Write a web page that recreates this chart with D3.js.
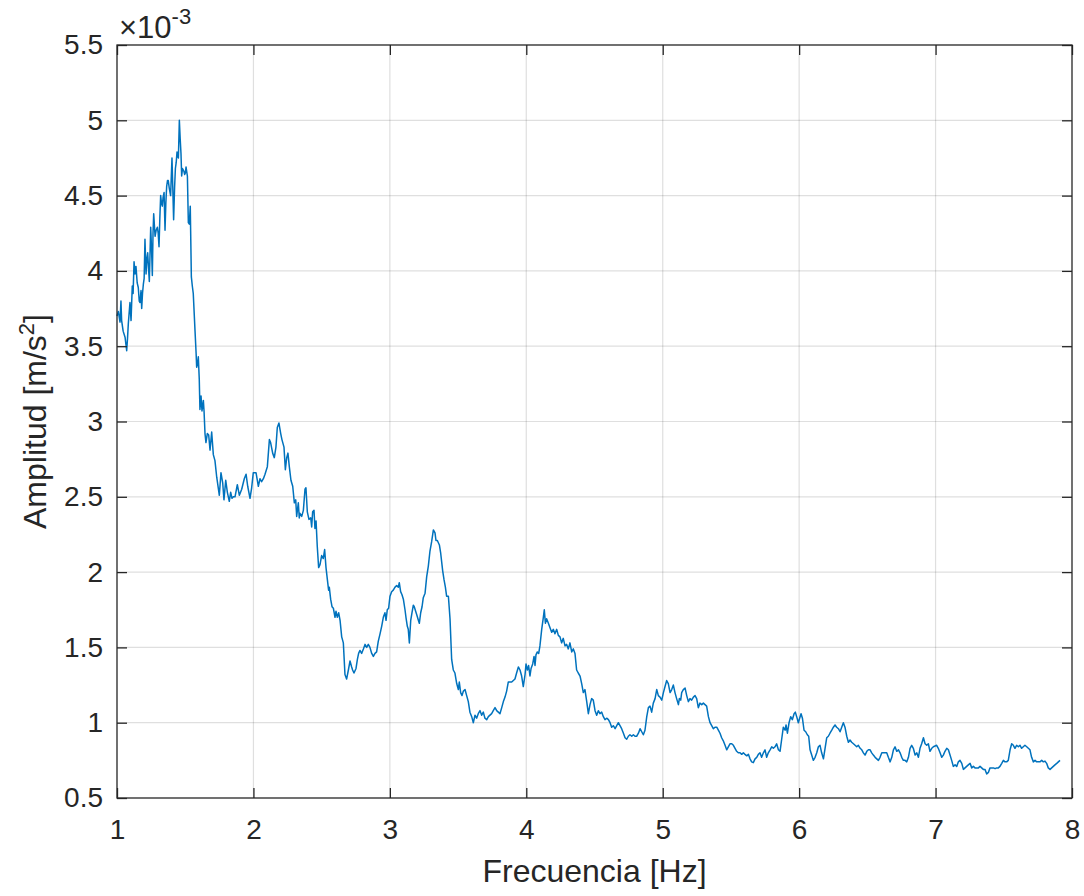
<!DOCTYPE html>
<html>
<head>
<meta charset="utf-8">
<script src="https://cdn.jsdelivr.net/npm/d3@7/dist/d3.min.js"></script>
<style>
  html, body { margin: 0; padding: 0; background: #ffffff; }
  svg { display: block; font-family: "Liberation Sans", Arial, Helvetica, sans-serif; }
</style>
</head>
<body>
<svg id="chart" width="1084" height="896"></svg>
<script>
// Frequency (Hz)
const freq = [
  1.000,1.010,1.022,1.029,1.034,1.045,1.059,1.071,1.077,1.083,1.095,1.103,1.112,1.118,1.125,1.132,1.139,1.148,1.156,1.163,
  1.169,1.176,1.181,1.187,1.193,1.199,1.205,1.213,1.219,1.225,1.231,1.237,1.247,1.253,1.259,1.264,1.269,1.279,1.287,1.296,
  1.302,1.308,1.314,1.320,1.326,1.332,1.338,1.345,1.352,1.358,1.364,1.370,1.376,1.383,1.393,1.403,1.409,1.415,1.422,1.428,
  1.434,1.440,1.445,1.450,1.457,1.463,1.469,1.474,1.480,1.486,1.491,1.496,1.501,1.506,1.511,1.516,1.520,1.523,1.530,1.537,
  1.545,1.552,1.559,1.572,1.580,1.584,1.590,1.596,
  1.603,1.608,1.616,1.623,1.633,1.638,1.645,1.652,1.662,1.672,1.682,1.694,1.706,1.718,1.731,1.750,1.762,1.775,1.784,1.797,
  1.809,1.823,1.833,1.843,1.853,1.865,1.882,1.897,1.914,1.933,1.946,1.958,1.975,1.987,1.999,2.019,2.036,2.048,2.060,2.073,
  2.085,2.102,2.117,2.126,2.141,2.153,2.165,2.175,2.187,2.200,2.209,2.224,2.234,2.244,2.253,2.263,2.275,2.288,2.300,2.310,
  2.317,2.329,2.336,
  2.341,2.354,2.366,2.378,2.385,2.395,2.407,2.420,2.427,2.434,2.444,2.451,2.459,2.468,2.478,2.488,2.500,2.512,2.522,2.532,
  2.542,2.551,2.556,2.566,2.576,2.586,2.598,2.605,2.615,2.625,2.635,2.647,2.659,2.671,2.683,2.696,2.708,2.720,2.727,2.737,
  2.752,2.762,2.771,2.781,2.793,2.806,2.818,2.830,2.842,2.854,2.867,2.879,2.891,2.903,2.915,2.928,2.940,2.952,2.964,2.972,
  2.981,2.991,3.001,3.013,3.025,3.038,3.050,3.062,3.069,3.079,3.089,3.099,3.111,3.118,3.128,3.135,3.143,3.153,3.162,3.172,
  3.179,3.189,3.196,3.209,3.216,3.226,3.236,3.245,3.258,3.270,3.282,3.294,3.306,3.319,3.331,3.338,3.348,3.363,3.372,3.387,
  3.397,3.407,3.416,3.429,3.441,
  3.453,3.465,3.477,3.490,3.502,3.509,3.519,3.529,3.539,3.551,3.563,3.575,3.587,3.600,3.612,3.624,3.636,3.648,3.661,3.673,
  3.685,3.697,3.710,3.722,3.734,3.746,3.758,3.771,3.783,3.795,3.807,3.820,3.832,3.844,3.856,3.868,3.881,3.893,3.905,3.917,
  3.929,3.942,3.954,3.966,3.978,3.991,3.998,4.008,4.017,4.027,4.035,4.047,4.057,4.064,4.071,4.081,4.091,4.100,4.113,4.125,
  4.132,4.140,4.149,4.162,4.174,4.186,4.198,4.210,4.223,4.235,4.247,4.259,4.271,4.284,4.296,4.308,4.320,4.333,4.345,4.357,
  4.369,4.381,
  4.394,4.406,4.418,4.430,4.443,4.455,4.467,4.479,4.491,4.504,4.516,4.528,4.540,4.553,4.565,4.577,4.589,4.602,4.614,4.626,
  4.638,4.651,4.663,4.675,4.687,4.699,4.712,4.724,4.736,4.748,4.760,4.773,4.785,4.797,4.809,4.822,4.834,4.846,4.858,4.870,
  4.883,4.895,4.907,4.919,4.931,4.944,4.956,4.968,4.980,4.993,5.005,5.017,5.029,5.041,5.054,5.066,5.078,5.090,5.102,5.115,
  5.122,5.132,5.139,5.151,5.164,5.176,5.188,5.200,5.212,5.225,5.237,5.249,5.261,5.273,5.286,5.298,5.310,5.322,5.335,5.347,
  5.359,5.371,5.383,5.396,5.408,5.420,5.432,5.444,5.457,5.469,5.481,5.493,5.506,5.518,5.530,5.542,5.554,5.567,5.579,5.591,
  5.603,5.616,5.628,5.640,5.652,5.664,5.677,5.689,5.701,5.713,5.725,5.738,5.750,5.762,5.774,5.787,5.799,5.811,5.823,5.835,
  5.848,
  5.860,5.872,5.884,5.897,5.904,5.914,5.926,5.938,5.950,5.963,5.972,5.982,5.994,6.007,6.014,6.024,6.036,6.048,6.060,6.070,
  6.080,6.092,6.104,6.117,6.129,6.141,6.153,6.165,6.178,6.190,6.202,6.214,6.226,6.239,6.251,6.263,6.275,6.288,6.300,6.312,
  6.324,6.336,6.349,6.361,6.373,6.385,6.398,6.410,6.422,6.434,6.447,6.459,6.471,6.483,6.496,6.508,6.520,6.532,6.544,6.557,
  6.569,6.581,6.593,6.606,6.618,6.630,6.642,6.654,6.667,6.679,6.691,6.703,6.715,6.728,6.740,6.752,6.764,6.776,6.789,6.801,
  6.813,6.825,6.837,6.850,6.862,6.874,6.886,6.898,6.911,6.923,6.935,6.947,6.959,6.972,6.984,6.996,7.008,7.020,7.033,7.045,
  7.057,7.069,7.082,7.094,7.106,7.118,7.130,7.143,7.155,7.167,7.179,7.192,7.204,7.216,7.228,7.240,7.253,7.265,7.277,7.289,
  7.301,7.314,7.326,7.338,7.350,7.362,7.375,7.387,7.399,7.411,7.424,7.436,7.448,7.460,7.472,7.485,7.497,7.509,7.521,7.533,
  7.546,7.558,7.570,7.582,7.594,7.607,7.619,7.631,7.643,7.655,7.668,7.680,7.692,7.704,7.717,7.729,7.741,7.753,7.765,7.778,
  7.790,7.802,7.814,7.826,7.839,7.851,7.863,7.875,7.888,7.900,7.912
];

// Amplitude (x 10^-3 m/s^2)
const amplitude = [
  3.70,3.73,3.66,3.80,3.67,3.60,3.56,3.47,3.55,3.65,3.79,3.67,3.90,3.85,4.06,3.98,4.03,3.92,3.89,3.80,
  3.79,3.87,3.75,3.85,3.91,3.95,4.21,3.98,4.08,4.12,4.02,3.93,4.29,4.15,3.97,4.25,4.38,4.23,4.27,4.29,
  4.25,4.16,4.35,4.50,4.45,4.43,4.49,4.52,4.27,4.45,4.56,4.60,4.60,4.55,4.50,4.75,4.55,4.34,4.55,4.68,
  4.72,4.79,4.76,4.75,5.00,4.88,4.78,4.63,4.68,4.67,4.66,4.64,4.65,4.69,4.66,4.63,4.45,4.32,4.31,4.43,
  3.96,3.90,3.85,3.60,3.45,3.36,3.38,3.43,
  3.28,3.08,3.17,3.07,3.14,3.07,2.92,2.86,2.92,2.91,2.81,2.93,2.78,2.74,2.63,2.51,2.66,2.59,2.48,2.61,
  2.53,2.47,2.53,2.49,2.50,2.50,2.58,2.51,2.55,2.62,2.65,2.57,2.49,2.56,2.66,2.66,2.57,2.62,2.60,2.62,
  2.65,2.70,2.88,2.86,2.79,2.76,2.83,2.96,2.99,2.92,2.88,2.83,2.68,2.76,2.79,2.70,2.61,2.57,2.46,2.48,
  2.37,2.46,2.36,
  2.39,2.37,2.41,2.55,2.56,2.40,2.35,2.36,2.30,2.40,2.41,2.29,2.34,2.17,2.03,2.05,2.11,2.09,2.15,2.03,
  1.95,1.88,1.90,1.82,1.77,1.76,1.70,1.74,1.70,1.73,1.68,1.57,1.53,1.32,1.29,1.35,1.41,1.37,1.35,1.33,
  1.36,1.42,1.46,1.48,1.46,1.49,1.52,1.50,1.52,1.50,1.46,1.44,1.46,1.47,1.54,1.59,1.64,1.70,1.73,1.68,
  1.75,1.76,1.84,1.87,1.88,1.90,1.91,1.90,1.93,1.87,1.85,1.82,1.75,1.70,1.64,1.62,1.53,1.68,1.73,1.78,
  1.77,1.74,1.72,1.68,1.66,1.73,1.77,1.83,1.86,1.97,2.04,2.14,2.20,2.28,2.26,2.21,2.21,2.18,2.13,2.01,
  1.95,1.90,1.84,1.84,1.69,
  1.42,1.35,1.33,1.26,1.22,1.27,1.20,1.18,1.21,1.22,1.18,1.14,1.07,1.04,1.00,1.05,1.03,1.06,1.08,1.05,
  1.07,1.03,1.02,1.04,1.05,1.06,1.08,1.10,1.08,1.07,1.06,1.10,1.14,1.17,1.21,1.27,1.27,1.27,1.28,1.29,
  1.33,1.37,1.35,1.31,1.24,1.32,1.39,1.35,1.38,1.31,1.36,1.39,1.44,1.38,1.45,1.47,1.46,1.51,1.62,1.70,
  1.75,1.66,1.69,1.66,1.63,1.60,1.62,1.59,1.62,1.58,1.57,1.53,1.56,1.51,1.52,1.49,1.53,1.47,1.49,1.46,
  1.35,1.33,
  1.31,1.26,1.20,1.22,1.14,1.06,1.12,1.16,1.15,1.08,1.05,1.08,1.06,1.07,1.04,1.02,1.03,1.02,1.00,0.97,
  0.98,0.96,0.98,1.00,0.98,0.96,0.93,0.90,0.89,0.91,0.92,0.91,0.92,0.91,0.91,0.93,0.96,0.94,0.92,0.95,
  1.04,1.10,1.11,1.07,1.13,1.16,1.22,1.18,1.17,1.15,1.20,1.24,1.28,1.26,1.20,1.22,1.25,1.20,1.16,1.12,
  1.16,1.15,1.20,1.22,1.23,1.18,1.14,1.16,1.15,1.17,1.18,1.16,1.10,1.13,1.12,1.13,1.12,1.11,1.04,1.00,
  0.98,0.96,0.97,0.97,0.95,0.93,0.90,0.88,0.85,0.82,0.84,0.86,0.86,0.85,0.83,0.81,0.80,0.80,0.79,0.80,
  0.79,0.78,0.79,0.76,0.74,0.735,0.76,0.77,0.79,0.80,0.77,0.80,0.82,0.77,0.80,0.82,0.84,0.83,0.84,0.86,
  0.82,
  0.81,0.89,0.97,0.95,0.985,0.93,1.00,1.04,1.02,1.06,1.07,1.04,1.00,1.04,1.06,1.03,0.95,0.94,0.92,0.91,
  0.82,0.785,0.75,0.77,0.80,0.84,0.85,0.80,0.76,0.83,0.90,0.91,0.93,0.95,0.97,0.985,0.97,0.96,0.94,0.97,
  1.00,0.97,0.91,0.87,0.885,0.87,0.86,0.85,0.84,0.85,0.83,0.82,0.80,0.785,0.81,0.82,0.82,0.80,0.785,0.77,
  0.76,0.75,0.77,0.80,0.80,0.80,0.80,0.77,0.74,0.77,0.82,0.84,0.81,0.82,0.80,0.77,0.75,0.75,0.74,0.77,
  0.83,0.85,0.83,0.785,0.80,0.77,0.83,0.86,0.90,0.86,0.85,0.86,0.81,0.83,0.84,0.845,0.85,0.83,0.80,0.77,
  0.785,0.81,0.83,0.82,0.785,0.75,0.71,0.72,0.71,0.74,0.75,0.73,0.69,0.70,0.71,0.72,0.73,0.70,0.71,0.70,
  0.70,0.70,0.71,0.70,0.69,0.69,0.66,0.67,0.70,0.70,0.70,0.695,0.70,0.70,0.71,0.73,0.75,0.74,0.74,0.75,
  0.82,0.86,0.85,0.83,0.85,0.84,0.85,0.83,0.84,0.85,0.84,0.83,0.82,0.77,0.74,0.75,0.74,0.74,0.74,0.75,
  0.74,0.745,0.73,0.70,0.69,0.70,0.71,0.72,0.73,0.74,0.75
];

const xTicks = [1, 2, 3, 4, 5, 6, 7, 8];
const yTicks = [0.5, 1, 1.5, 2, 2.5, 3, 3.5, 4, 4.5, 5, 5.5];
const yTickLabels = ["0.5", "1", "1.5", "2", "2.5", "3", "3.5", "4", "4.5", "5", "5.5"];
const xLabel = "Frecuencia [Hz]";
const yLabelMain = "Amplitud [m/s";
const yLabelSup = "2";
const yLabelEnd = "]";
const exponentBase = "\u00d710";
const exponentPower = "-3";

const W = 1084, H = 896;
const margin = { left: 117, top: 45, right: 12, bottom: 98 };
const ink = "#262626";
const lineColor = "#0072BD";
const tickFont = 28;
const labelFont = 32;

const svg = d3.select("#chart");

const x = d3.scaleLinear().domain([1, 8]).range([margin.left, W - margin.right]);
const y = d3.scaleLinear().domain([0.5, 5.5]).range([H - margin.bottom, margin.top]);

// grid
const grid = svg.append("g").attr("class", "grid");
grid.selectAll("line.v").data(xTicks.slice(1, -1)).join("line")
  .attr("x1", d => x(d)).attr("x2", d => x(d))
  .attr("y1", y(0.5)).attr("y2", y(5.5))
  .attr("stroke", ink).attr("stroke-opacity", 0.15).attr("stroke-width", 1.2);
grid.selectAll("line.h").data(yTicks.slice(1, -1)).join("line")
  .attr("x1", x(1)).attr("x2", x(8))
  .attr("y1", d => y(d)).attr("y2", d => y(d))
  .attr("stroke", ink).attr("stroke-opacity", 0.15).attr("stroke-width", 1.2);

// spectrum line
const pts = freq.map((f, i) => [f, amplitude[i]]);
svg.append("path")
  .datum(pts)
  .attr("fill", "none")
  .attr("stroke", lineColor)
  .attr("stroke-width", 1.5)
  .attr("stroke-linejoin", "round")
  .attr("d", d3.line().x(d => x(d[0])).y(d => y(d[1])));

// axes (ticks pointing inward, box on)
function styleAxis(g) {
  g.selectAll(".domain").remove();
  g.selectAll(".tick line").attr("stroke", ink).attr("stroke-width", 1.3);
  g.selectAll(".tick text").attr("fill", ink).attr("font-size", tickFont)
    .attr("font-family", "Liberation Sans, Arial, sans-serif");
}

svg.append("g").attr("transform", `translate(0,${y(0.5)})`)
  .call(d3.axisBottom(x).tickValues(xTicks).tickFormat(d3.format("d"))
    .tickSizeInner(-10).tickSizeOuter(0).tickPadding(21))
  .call(styleAxis);

svg.append("g").attr("transform", `translate(0,${y(5.5)})`)
  .call(d3.axisTop(x).tickValues(xTicks).tickFormat("")
    .tickSizeInner(-10).tickSizeOuter(0))
  .call(styleAxis);

svg.append("g").attr("transform", `translate(${x(1)},0)`)
  .call(d3.axisLeft(y).tickValues(yTicks).tickFormat((d, i) => yTickLabels[i])
    .tickSizeInner(-10).tickSizeOuter(0).tickPadding(14))
  .call(styleAxis);

svg.append("g").attr("transform", `translate(${x(8)},0)`)
  .call(d3.axisRight(y).tickValues(yTicks).tickFormat("")
    .tickSizeInner(-10).tickSizeOuter(0))
  .call(styleAxis);

// box
svg.append("rect")
  .attr("x", x(1)).attr("y", y(5.5))
  .attr("width", x(8) - x(1)).attr("height", y(0.5) - y(5.5))
  .attr("fill", "none").attr("stroke", ink).attr("stroke-width", 1.3);

// exponent label
const expo = svg.append("text")
  .attr("x", x(1) + 2).attr("y", 38)
  .attr("fill", ink).attr("font-size", 31);
expo.append("tspan").text(exponentBase);
expo.append("tspan").attr("dy", -14).attr("font-size", 22).text(exponentPower);

// x label
svg.append("text")
  .attr("x", (x(1) + x(8)) / 2).attr("y", 882)
  .attr("text-anchor", "middle")
  .attr("fill", ink).attr("font-size", labelFont)
  .text(xLabel);

// y label
const yl = svg.append("text")
  .attr("transform", `translate(46,${(y(0.5) + y(5.5)) / 2}) rotate(-90)`)
  .attr("text-anchor", "middle")
  .attr("fill", ink).attr("font-size", labelFont);
yl.append("tspan").text(yLabelMain);
yl.append("tspan").attr("dy", -12).attr("font-size", 22).text(yLabelSup);
yl.append("tspan").attr("dy", 12).text(yLabelEnd);
</script>
</body>
</html>
